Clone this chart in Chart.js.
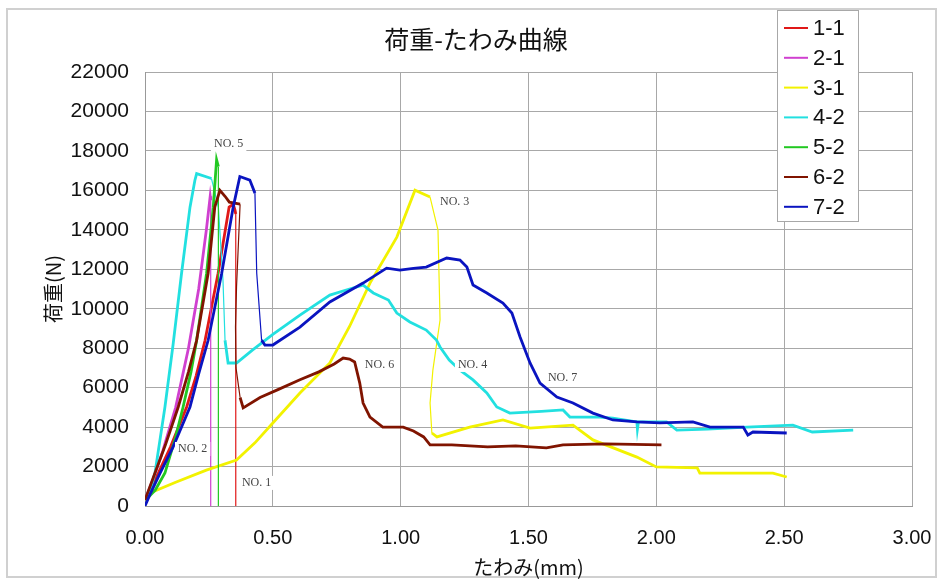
<!DOCTYPE html>
<html><head><meta charset="utf-8">
<script src="https://cdn.jsdelivr.net/npm/chart.js@4.4.1/dist/chart.umd.min.js"></script>
<style>html,body{margin:0;padding:0;background:#fff}#wrap{width:939px;height:579px;position:relative}</style>
</head><body><div id="wrap"><canvas id="c" width="939" height="579"></canvas></div>
<script>
// ---- data ----
const seriesNames = ['1-1', '2-1', '3-1', '4-2', '5-2', '6-2', '7-2'];

const x11 = [0, 0.02, 0.052, 0.1, 0.163, 0.2, 0.235, 0.286, 0.329, 0.345, 0.352, 0.355, 0.355];
const y11 = [300, 900, 1670, 3000, 5020, 6600, 8400, 11800, 15150, 15300, 15000, 14800, 0];

const x21 = [0, 0.03, 0.07, 0.12, 0.17, 0.21, 0.24, 0.255, 0.257, 0.257];
const y21 = [300, 1300, 2800, 5000, 8000, 11000, 14000, 15700, 15500, 0];

const x31 = [0, 0.02, 0.12, 0.24, 0.358, 0.43, 0.50, 0.606, 0.723, 0.80, 0.88, 0.985, 1.056, 1.115, 1.146, 1.154, 1.126, 1.115, 1.122, 1.142, 1.27, 1.40, 1.506, 1.674, 1.752, 1.924, 2.0, 2.16, 2.17, 2.456, 2.51];
const y31 = [300, 660, 1200, 1820, 2330, 3200, 4210, 5730, 7250, 9100, 11300, 13630, 16010, 15660, 13990, 9430, 6890, 5220, 3700, 3500, 4000, 4360, 3950, 4100, 3350, 2480, 1980, 1930, 1670, 1670, 1470];

const x42 = [0, 0.02, 0.039, 0.078, 0.11, 0.143, 0.176, 0.195, 0.202, 0.26, 0.287, 0.305, 0.313, 0.325, 0.358, 0.42, 0.5, 0.606, 0.723, 0.80, 0.853, 0.893, 0.952, 0.985, 1.036, 1.10, 1.14, 1.154, 1.19, 1.232, 1.283, 1.337, 1.376, 1.427, 1.55, 1.635, 1.662, 1.78, 1.83, 1.924, 1.926, 1.93, 2.04, 2.08, 2.2, 2.354, 2.534, 2.61, 2.77];
const y42 = [300, 800, 1670, 5020, 8200, 11800, 15150, 16500, 16850, 16600, 15150, 11450, 8400, 7250, 7250, 7900, 8700, 9680, 10690, 11000, 11200, 10800, 10440, 9780, 9330, 8920, 8410, 8060, 7400, 6890, 6390, 5730, 5020, 4710, 4800, 4870, 4510, 4510, 4460, 4260, 3900, 4260, 4260, 3850, 3900, 4000, 4100, 3750, 3850];

const x52 = [0.01, 0.04, 0.078, 0.12, 0.149, 0.18, 0.202, 0.241, 0.267, 0.28, 0.287, 0.287];
const y52 = [400, 800, 1670, 3500, 5020, 6800, 8400, 11800, 15150, 17550, 17200, 0];

const x62 = [0, 0.039, 0.08, 0.13, 0.17, 0.202, 0.247, 0.273, 0.293, 0.313, 0.33, 0.372, 0.358, 0.354, 0.356, 0.372, 0.384, 0.45, 0.52, 0.606, 0.68, 0.74, 0.775, 0.80, 0.82, 0.84, 0.853, 0.88, 0.93, 1.01, 1.05, 1.09, 1.115, 1.2, 1.34, 1.45, 1.57, 1.635, 1.8, 2.02];
const y62 = [300, 1670, 3100, 5020, 6800, 8400, 11800, 15150, 16000, 15700, 15400, 15300, 11100, 9070, 7000, 5500, 4970, 5500, 5900, 6400, 6800, 7200, 7500, 7450, 7300, 6230, 5220, 4510, 4000, 4000, 3800, 3500, 3100, 3100, 3000, 3050, 2950, 3100, 3150, 3100];

const x72 = [0, 0.02, 0.059, 0.11, 0.176, 0.21, 0.247, 0.30, 0.345, 0.371, 0.41, 0.43, 0.437, 0.456, 0.469, 0.50, 0.606, 0.723, 0.853, 0.945, 0.997, 1.05, 1.10, 1.18, 1.232, 1.259, 1.283, 1.337, 1.40, 1.435, 1.467, 1.506, 1.545, 1.611, 1.674, 1.752, 1.83, 1.924, 2.014, 2.143, 2.21, 2.34, 2.358, 2.378, 2.51];
const y72 = [0, 600, 1670, 3000, 5020, 6700, 8400, 11800, 15150, 16700, 16520, 15860, 11800, 8410, 8160, 8160, 9070, 10340, 11300, 12060, 11960, 12050, 12110, 12570, 12470, 12110, 11200, 10800, 10290, 9780, 8570, 7250, 6230, 5520, 5220, 4710, 4360, 4260, 4210, 4260, 4000, 4000, 3600, 3750, 3700];

const noteLabels = ['NO. 1', 'NO. 2', 'NO. 3', 'NO. 4', 'NO. 5', 'NO. 6', 'NO. 7'];
const noteX = [0.379, 0.129, 1.154, 1.224, 0.27, 0.86, 1.576];
const noteY = [1170, 2890, 15410, 7150, 18350, 7150, 6490];

const chartTitle = '荷重-たわみ曲線';
const xTitle = 'たわみ(mm)';
const yTitle = '荷重(N)';

// ---- styles ----
const colors = ['#e01818', '#d040d0', '#f2f200', '#22e0e0', '#22c822', '#801400', '#0a14c0'];
const tickFont = "'Liberation Sans', sans-serif";
const jpFont = "'Noto Sans CJK JP', sans-serif";

const xsAll = [x11, x21, x31, x42, x52, x62, x72];
const ysAll = [y11, y21, y31, y42, y52, y62, y72];

const datasets = seriesNames.map((name, i) => ({
  label: name,
  data: xsAll[i].map((x, j) => ({ x: x, y: ysAll[i][j] })),
  borderColor: colors[i],
  backgroundColor: colors[i],
  borderWidth: 2.8,
  pointRadius: 0,
  tension: 0,
  fill: false,
  order: seriesNames.length - i,
  segment: {
    borderWidth: ctx => (ctx.p0.parsed.y - ctx.p1.parsed.y > 1400 ? 1.2 : 2.8)
  }
}));

const framePlugin = {
  id: 'frame',
  beforeDraw(chart) {
    const c = chart.ctx;
    c.save();
    c.fillStyle = '#fff';
    c.fillRect(0, 0, chart.width, chart.height);
    c.strokeStyle = '#d0d0d0';
    c.lineWidth = 2;
    c.strokeRect(7, 9, 929, 568);
    c.restore();
  }
};

const titlePlugin = {
  id: 'ctitle',
  afterDraw(chart) {
    const c = chart.ctx;
    c.save();
    c.font = "25px " + jpFont;
    c.fillStyle = '#111';
    c.textAlign = 'center';
    c.textBaseline = 'middle';
    c.fillText(chartTitle, 476, 39);
    c.restore();
  }
};

const notePlugin = {
  id: 'notes',
  afterDatasetsDraw(chart) {
    const c = chart.ctx;
    const sx = chart.scales.x, sy = chart.scales.y;
    c.save();
    c.font = "12px 'Liberation Serif', serif";
    c.textBaseline = 'middle';
    c.textAlign = 'left';
    noteLabels.forEach((t, i) => {
      const px = sx.getPixelForValue(noteX[i]);
      const py = sy.getPixelForValue(noteY[i]);
      const w = c.measureText(t).width;
      c.fillStyle = '#fff';
      c.fillRect(px - 3, py - 7, w + 6, 14);
      c.fillStyle = '#444';
      c.fillText(t, px, py);
    });
    c.restore();
  }
};

const legendPlugin = {
  id: 'clegend',
  afterDraw(chart) {
    const c = chart.ctx;
    c.save();
    c.fillStyle = '#fff';
    c.fillRect(777, 10, 81, 211);
    c.strokeStyle = '#a8a8a8';
    c.lineWidth = 1;
    c.strokeRect(777.5, 10.5, 81, 211);
    c.font = "22px " + tickFont;
    c.textBaseline = 'middle';
    c.textAlign = 'left';
    chart.data.datasets.forEach((ds, i) => {
      const y = 28 + i * 29.8;
      c.strokeStyle = ds.borderColor;
      c.lineWidth = 2;
      c.beginPath();
      c.moveTo(784, y);
      c.lineTo(808, y);
      c.stroke();
      c.fillStyle = '#111';
      c.fillText(ds.label, 813, y + 1);
    });
    c.restore();
  }
};

new Chart(document.getElementById('c'), {
  type: 'line',
  data: { datasets: datasets },
  options: {
    responsive: false,
    animation: false,
    devicePixelRatio: 1,
    layout: { padding: { left: 0, right: 27, top: 72, bottom: 0 } },
    plugins: {
      legend: { display: false },
      title: { display: false },
      tooltip: { enabled: false }
    },
    scales: {
      x: {
        type: 'linear',
        min: 0, max: 3,
        ticks: {
          stepSize: 0.5,
          callback: v => Number(v).toFixed(2),
          font: { family: tickFont, size: 20 },
          color: '#111',
          padding: 20,
          maxRotation: 0,
          autoSkip: false
        },
        grid: { color: '#a8a8a8', lineWidth: 1, drawTicks: false },
        border: { color: '#999', width: 1 },
        title: {
          display: true, text: xTitle,
          font: { family: jpFont, size: 20 },
          color: '#111',
          padding: { top: 0, bottom: 0 }
        },
        afterFit: s => { s.height = 73; s.paddingLeft = 0; s.paddingRight = 0; }
      },
      y: {
        type: 'linear',
        min: 0, max: 22000,
        ticks: {
          stepSize: 2000,
          callback: v => String(v),
          font: { family: tickFont, size: 21 },
          color: '#111',
          padding: 16
        },
        grid: { color: '#a8a8a8', lineWidth: 1, drawTicks: false },
        border: { color: '#999', width: 1 },
        title: {
          display: true, text: yTitle,
          font: { family: jpFont, size: 20 },
          color: '#111',
          padding: { top: 41, bottom: 0 }
        },
        afterFit: s => { s.width = 145; s.paddingTop = 0; s.paddingBottom = 0; }
      }
    }
  },
  plugins: [framePlugin, notePlugin, titlePlugin, legendPlugin]
});
</script>
</body></html>
